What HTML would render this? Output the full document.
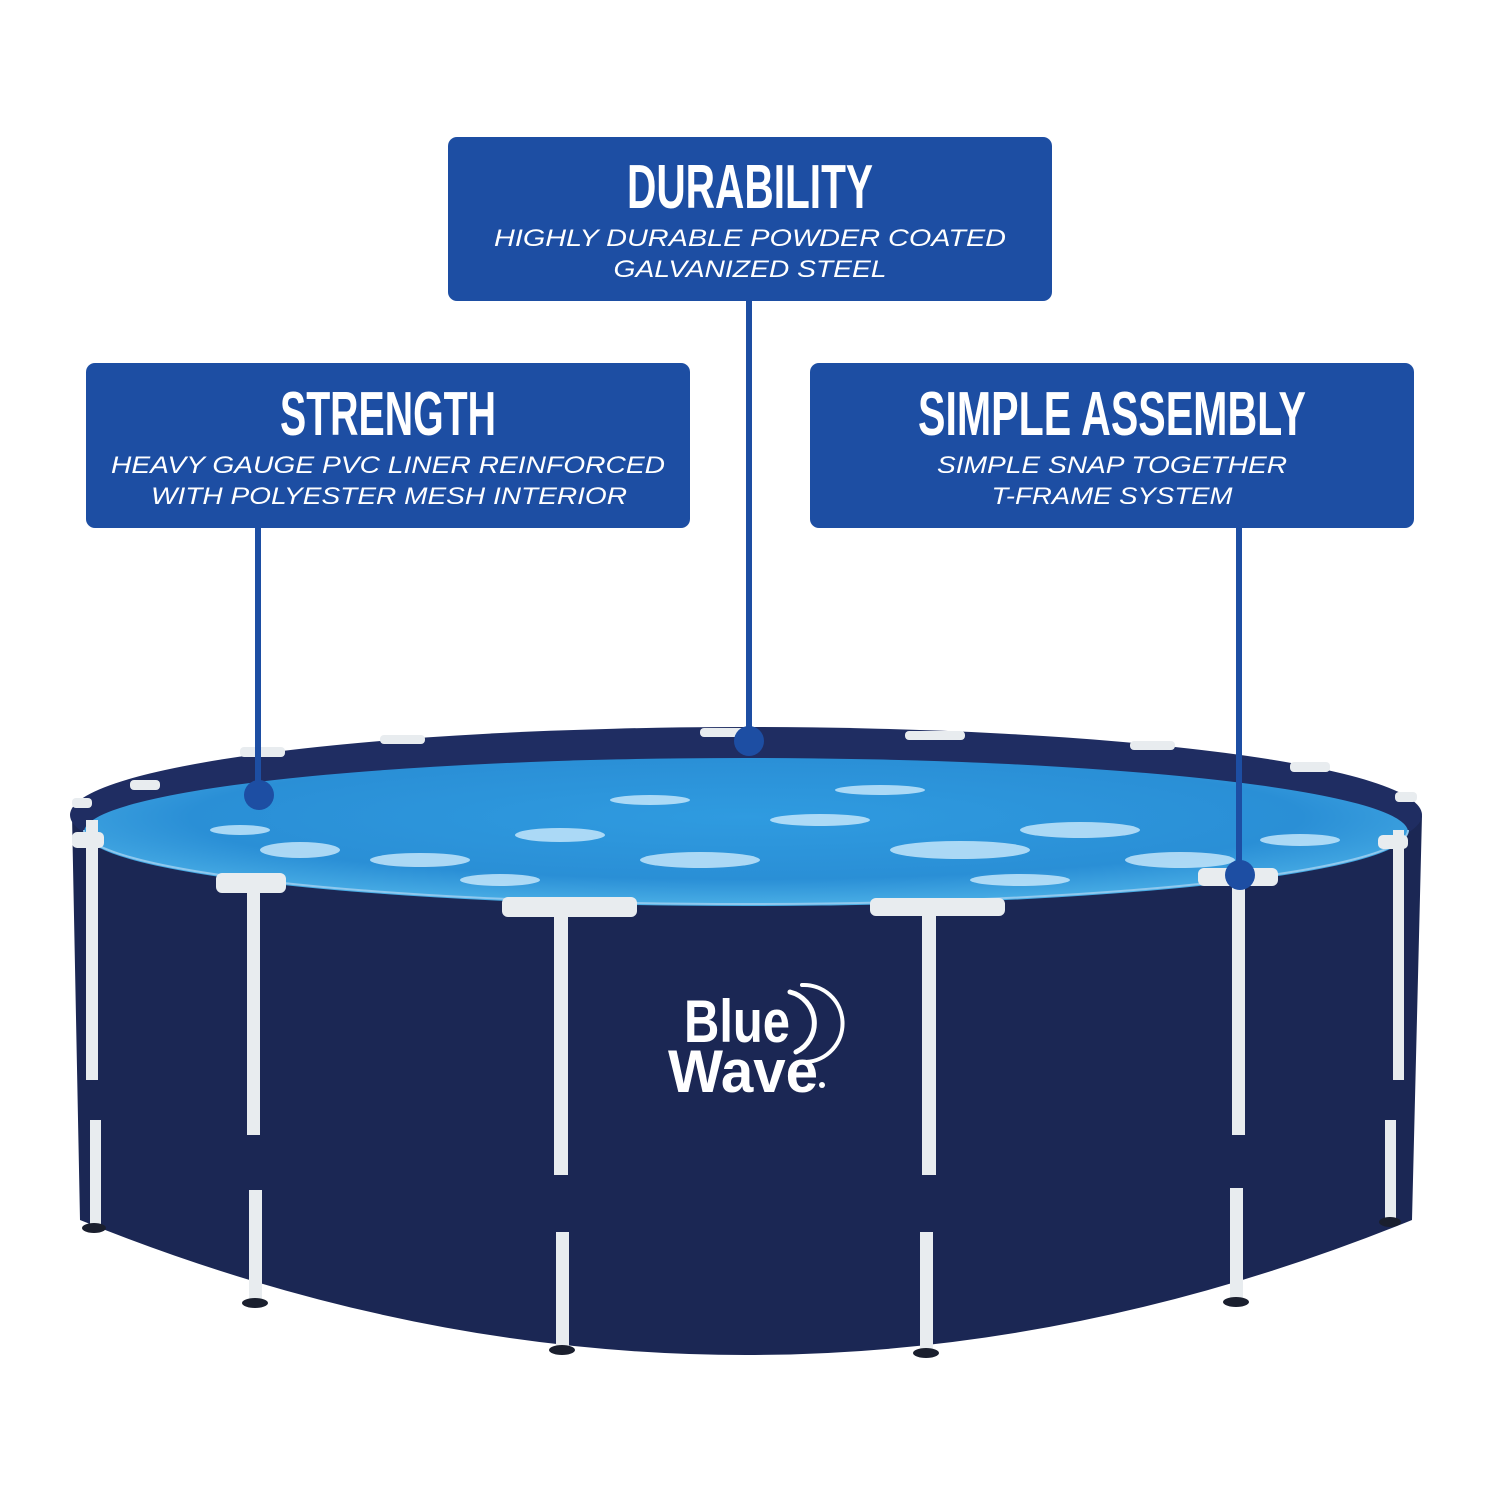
<!DOCTYPE html>
<html><head><meta charset="utf-8"><style>
html,body{margin:0;padding:0;background:#fff;}
svg{display:block}
.t{font-family:"Liberation Sans",sans-serif;font-weight:bold;fill:#fff;text-anchor:middle}
.s{font-family:"Liberation Sans",sans-serif;font-style:italic;fill:#fff;text-anchor:middle;font-size:24px}
</style></head><body>
<svg width="1500" height="1500" viewBox="0 0 1500 1500">
<defs>
<radialGradient id="w" cx="0.5" cy="0.4" r="0.7">
<stop offset="0" stop-color="#2f9be0"/><stop offset="0.6" stop-color="#2a8fd6"/><stop offset="1" stop-color="#5cc0ee"/>
</radialGradient>
</defs>
<path d="M72,815 L80,1220 Q746,1490 1412,1220 L1422,815 A676,88 0 0 1 72,815 Z" fill="#1b2754"/>
<ellipse cx="746" cy="815" rx="676" ry="88" fill="#1f2d62"/>
<ellipse cx="746" cy="832" rx="662" ry="74" fill="url(#w)"/>
<g fill="#d6f0ff" opacity="0.75">
<ellipse cx="300" cy="850" rx="40" ry="8"/><ellipse cx="420" cy="860" rx="50" ry="7"/><ellipse cx="560" cy="835" rx="45" ry="7"/>
<ellipse cx="700" cy="860" rx="60" ry="8"/><ellipse cx="820" cy="820" rx="50" ry="6"/><ellipse cx="960" cy="850" rx="70" ry="9"/>
<ellipse cx="1080" cy="830" rx="60" ry="8"/><ellipse cx="1180" cy="860" rx="55" ry="8"/><ellipse cx="1020" cy="880" rx="50" ry="6"/>
<ellipse cx="650" cy="800" rx="40" ry="5"/><ellipse cx="880" cy="790" rx="45" ry="5"/><ellipse cx="1300" cy="840" rx="40" ry="6"/>
<ellipse cx="500" cy="880" rx="40" ry="6"/><ellipse cx="240" cy="830" rx="30" ry="5"/>
</g>
<path d="M84,830 A662,74 0 0 0 1408,830" fill="none" stroke="#8fc8ee" stroke-width="2"/>
<g fill="#e8ecef">
<rect x="86" y="820" width="12" height="260"/><rect x="90" y="1120" width="11" height="110"/>
<rect x="247" y="885" width="13" height="250"/><rect x="249" y="1190" width="13" height="110"/>
<rect x="554" y="905" width="14" height="270"/><rect x="556" y="1232" width="13" height="115"/>
<rect x="922" y="905" width="14" height="270"/><rect x="920" y="1232" width="13" height="118"/>
<rect x="1232" y="880" width="13" height="255"/><rect x="1230" y="1188" width="13" height="112"/>
<rect x="1393" y="830" width="11" height="250"/><rect x="1385" y="1120" width="11" height="100"/>
<rect x="216" y="873" width="70" height="20" rx="6"/><rect x="502" y="897" width="135" height="20" rx="6"/>
<rect x="870" y="898" width="135" height="18" rx="6"/><rect x="1198" y="868" width="80" height="18" rx="6"/>
<rect x="72" y="832" width="32" height="16" rx="5"/><rect x="1378" y="835" width="30" height="14" rx="5"/>
<rect x="72" y="798" width="20" height="10" rx="4"/><rect x="130" y="780" width="30" height="10" rx="4"/>
<rect x="240" y="747" width="45" height="10" rx="4"/><rect x="380" y="735" width="45" height="9" rx="4"/>
<rect x="700" y="728" width="50" height="9" rx="4"/><rect x="905" y="731" width="60" height="9" rx="4"/>
<rect x="1130" y="741" width="45" height="9" rx="4"/><rect x="1290" y="762" width="40" height="10" rx="4"/>
<rect x="1395" y="792" width="22" height="10" rx="4"/>
</g>
<g fill="#1a1f2e"><ellipse cx="94" cy="1228" rx="12" ry="5"/><ellipse cx="255" cy="1303" rx="13" ry="5"/><ellipse cx="562" cy="1350" rx="13" ry="5"/><ellipse cx="926" cy="1353" rx="13" ry="5"/><ellipse cx="1236" cy="1302" rx="13" ry="5"/><ellipse cx="1390" cy="1222" rx="11" ry="5"/></g>
<g font-family="Liberation Sans,sans-serif" font-weight="bold" fill="#fff">
<text x="684" y="1042" font-size="60" textLength="106" lengthAdjust="spacingAndGlyphs">Blue</text>
<text x="668" y="1092" font-size="60" textLength="150" lengthAdjust="spacingAndGlyphs">Wave</text>
</g>
<circle cx="822" cy="1085" r="3" fill="#fff"/>
<g fill="none" stroke="#fff" stroke-linecap="round">
<path d="M790,992 A32,32 0 0 1 796,1052" stroke-width="5"/>
<path d="M802,985 A38,38 0 0 1 806,1062" stroke-width="4"/>
</g>
<g fill="#1d4ea3">
<rect x="255" y="525" width="6" height="270"/><circle cx="259" cy="795" r="15"/>
<rect x="746" y="298" width="6" height="442"/><circle cx="749" cy="741" r="15"/>
<rect x="1236" y="525" width="6" height="350"/><circle cx="1240" cy="875" r="15"/>
</g>
<g fill="#1d4ea3">
<rect x="448" y="137" width="604" height="164" rx="9"/>
<rect x="86" y="363" width="604" height="165" rx="9"/>
<rect x="810" y="363" width="604" height="165" rx="9"/>
</g>
<text class="t" x="750" y="208" font-size="62" textLength="246" lengthAdjust="spacingAndGlyphs">DURABILITY</text>
<text class="s" x="750" y="246" textLength="512" lengthAdjust="spacingAndGlyphs">HIGHLY DURABLE POWDER COATED</text>
<text class="s" x="750" y="277" textLength="273" lengthAdjust="spacingAndGlyphs">GALVANIZED STEEL</text>
<text class="t" x="388" y="435" font-size="62" textLength="216" lengthAdjust="spacingAndGlyphs">STRENGTH</text>
<text class="s" x="388" y="473" textLength="554" lengthAdjust="spacingAndGlyphs">HEAVY GAUGE PVC LINER REINFORCED</text>
<text class="s" x="389" y="504" textLength="476" lengthAdjust="spacingAndGlyphs">WITH POLYESTER MESH INTERIOR</text>
<text class="t" x="1112" y="435" font-size="62" textLength="388" lengthAdjust="spacingAndGlyphs">SIMPLE ASSEMBLY</text>
<text class="s" x="1112" y="473" textLength="350" lengthAdjust="spacingAndGlyphs">SIMPLE SNAP TOGETHER</text>
<text class="s" x="1112" y="504" textLength="241" lengthAdjust="spacingAndGlyphs">T-FRAME SYSTEM</text>
</svg>
</body></html>
